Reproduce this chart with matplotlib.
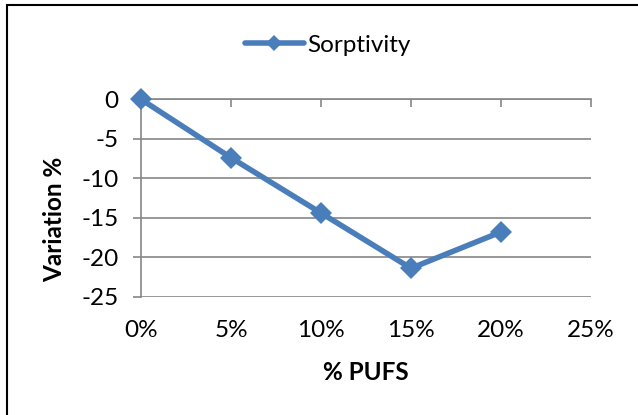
import matplotlib
matplotlib.use('Agg')
import matplotlib.pyplot as plt
from matplotlib.patches import Rectangle

# data
pufs = [0, 5, 10, 15, 20]
sorptivity = [0, -7.4, -14.4, -21.4, -16.8]
x_ticks = [0, 5, 10, 15, 20, 25]
x_labels = ['0%', '5%', '10%', '15%', '20%', '25%']
y_ticks = [0, -5, -10, -15, -20, -25]

plt.rcParams['font.family'] = ['Lato', 'DejaVu Sans']
plt.rcParams['axes.unicode_minus'] = False

blue = '#4A7EBB'
grey = '#868686'
fs = 17.5

fig = plt.figure(figsize=(6.38, 4.15), dpi=100)
ax = fig.add_axes([141 / 638, 1 - 296.7 / 415, 450 / 638, 197.4 / 415])

ax.plot(pufs, sorptivity, color=blue, lw=4, marker='D', markersize=11.5,
        markeredgewidth=0, label='Sorptivity', solid_capstyle='round',
        clip_on=False, zorder=5)

ax.set_xlim(0, 25)
ax.set_ylim(-25, 0)
ax.set_xticks(x_ticks)
ax.set_xticklabels(x_labels)
ax.set_yticks(y_ticks)

ax.grid(axis='y', color=grey, lw=1.2)
ax.set_axisbelow(True)
for side in ['right', 'bottom']:
    ax.spines[side].set_visible(False)
for side in ['left', 'top']:
    ax.spines[side].set_color(grey)
    ax.spines[side].set_linewidth(1.2)

# x axis crosses at 0 (top of plot), labels stay at the bottom
ax.tick_params(axis='x', top=True, bottom=False, labeltop=False, labelbottom=True,
               direction='in', length=6, width=1.2, color=grey, pad=17, labelsize=fs)
ax.tick_params(axis='y', direction='out', length=6, width=1.2, color=grey,
               pad=10, labelsize=fs)

ax.set_xlabel('% PUFS', fontsize=fs, fontweight='bold', labelpad=14)
ax.set_ylabel('Variation %', fontsize=fs, fontweight='bold')
ax.yaxis.set_label_coords(-0.167, 0.39)

fig.legend(loc='center', bbox_to_anchor=(328 / 638, 1 - 45 / 415), frameon=False,
           fontsize=fs, handlelength=2.4, handletextpad=0.15, markerscale=0.7)

# outer chart border
fig.add_artist(Rectangle((7 / 638, -0.1), 1.2, 1.1 - 5 / 415, transform=fig.transFigure,
                         fill=False, edgecolor='black', lw=1.5))

fig.savefig('out.png', dpi=100)
